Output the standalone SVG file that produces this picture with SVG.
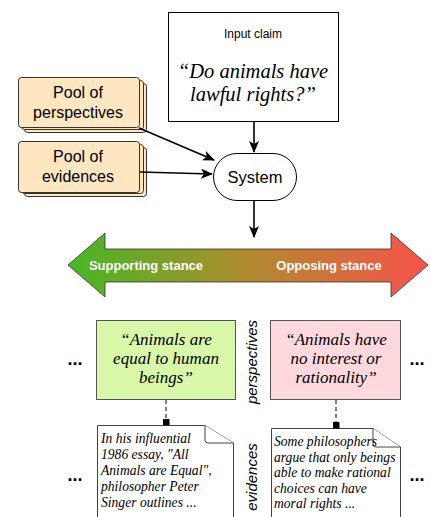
<svg xmlns="http://www.w3.org/2000/svg" width="430" height="517" viewBox="0 0 430 517">
<defs>
<marker id="ah" viewBox="0 0 12 10" refX="11" refY="5" markerWidth="12" markerHeight="10" markerUnits="userSpaceOnUse" orient="auto">
<path d="M0,0 L12,5 L0,10 L3,5 Z" fill="#000"/>
</marker>
<marker id="sq" viewBox="0 0 8 8" refX="4" refY="4" markerWidth="7" markerHeight="7" markerUnits="userSpaceOnUse" orient="auto">
<rect x="0" y="0" width="8" height="8" fill="#000"/>
</marker>
<linearGradient id="stance" x1="68" y1="0" x2="428" y2="0" gradientUnits="userSpaceOnUse">
<stop offset="0" stop-color="#45b824"/>
<stop offset="0.5" stop-color="#b08a2e"/>
<stop offset="1" stop-color="#f8534b"/>
</linearGradient>
</defs>
<style>
.sans{font-family:"Liberation Sans",Arial,sans-serif}
.serif{font-family:"Liberation Serif","Times New Roman",serif;font-style:italic}
.pool{fill:#fde6c0;stroke:#333;stroke-width:1}
.conn{stroke:#000;stroke-width:1.6;fill:none}
.dash{stroke:#000;stroke-width:1;stroke-dasharray:4 3;fill:none}
.doc{fill:#fff;stroke:#444;stroke-width:1}
.dots{font-family:"Liberation Sans",Arial,sans-serif;font-weight:bold;font-size:18px;fill:#000}
</style>
<rect width="430" height="517" fill="#fff"/>

<g id="input-claim">
<rect x="168.5" y="12.5" width="170" height="109" fill="#fff" stroke="#000" stroke-width="1"/>
<text x="253" y="38" class="sans" font-size="12" text-anchor="middle">Input claim</text>
<text x="253" y="78" class="serif" font-size="20.5" text-anchor="middle">“Do animals have</text>
<text x="253" y="101" class="serif" font-size="20.5" text-anchor="middle">lawful rights?”</text>
</g>

<g id="pool-perspectives">
<rect x="24.5" y="83.5" width="122" height="49" rx="3" class="pool"/>
<rect x="21.5" y="80.5" width="122" height="49" rx="3" class="pool"/>
<rect x="18.5" y="77.5" width="121" height="50" rx="3" class="pool"/>
<text x="78" y="98" class="sans" font-size="16" text-anchor="middle">Pool of</text>
<text x="78" y="118" class="sans" font-size="16" text-anchor="middle">perspectives</text>
</g>

<g id="pool-evidences">
<rect x="24.5" y="147.5" width="122" height="49" rx="3" class="pool"/>
<rect x="21.5" y="144.5" width="122" height="49" rx="3" class="pool"/>
<rect x="18.5" y="141.5" width="121" height="51" rx="3" class="pool"/>
<text x="78" y="162" class="sans" font-size="16" text-anchor="middle">Pool of</text>
<text x="78" y="182" class="sans" font-size="16" text-anchor="middle">evidences</text>
</g>

<g id="system">
<rect x="213.5" y="153.5" width="83" height="47" rx="23.5" fill="#fff" stroke="#000" stroke-width="1"/>
<text x="255" y="183" class="sans" font-size="16.5" text-anchor="middle">System</text>
</g>

<g id="stance">
<path d="M68,265 L105,233 L105,249 L391,249 L391,233 L428,265 L391,297 L391,282 L105,282 L105,297 Z" fill="url(#stance)" stroke="#333" stroke-width="0.8"/>
<text x="146" y="270" class="sans" font-size="13" font-weight="bold" fill="#fff" text-anchor="middle">Supporting stance</text>
<text x="329" y="270" class="sans" font-size="13" font-weight="bold" fill="#fff" text-anchor="middle">Opposing stance</text>
</g>

<g id="perspective-support">
<rect x="96.5" y="320.5" width="139" height="79" fill="#d8f7a8" stroke="#555" stroke-width="1"/>
<text x="166" y="345" class="serif" font-size="17" text-anchor="middle">“Animals are</text>
<text x="166" y="364" class="serif" font-size="17" text-anchor="middle">equal to human</text>
<text x="166" y="383" class="serif" font-size="17" text-anchor="middle">beings”</text>
</g>

<g id="perspective-oppose">
<rect x="270.5" y="320.5" width="130" height="79" fill="#fdd9dd" stroke="#555" stroke-width="1"/>
<text x="336" y="345" class="serif" font-size="17" text-anchor="middle">“Animals have</text>
<text x="336" y="364" class="serif" font-size="17" text-anchor="middle">no interest or</text>
<text x="336" y="383" class="serif" font-size="17" text-anchor="middle">rationality”</text>
</g>

<g id="label-perspectives">
<text transform="translate(257,362) rotate(-90)" class="sans" font-size="15" font-style="italic" text-anchor="middle">perspectives</text>
</g>
<g id="label-evidences">
<text transform="translate(257,477) rotate(-90)" class="sans" font-size="15" font-style="italic" text-anchor="middle">evidences</text>
</g>

<g id="evidence-support">
<path d="M97.5,530 L97.5,425.5 L205,425.5 L233.5,443 L233.5,530" class="doc"/>
<path d="M205,425.5 L205,440 Q205,443 208,443 L233.5,443" class="doc" fill="none"/>
<text class="serif" font-size="13.6" x="101">
<tspan x="101" y="443">In his influential</tspan>
<tspan x="101" y="459">1986 essay, "All</tspan>
<tspan x="101" y="475">Animals are Equal",</tspan>
<tspan x="101" y="491">philosopher Peter</tspan>
<tspan x="101" y="507">Singer outlines ...</tspan>
</text>
</g>

<g id="evidence-oppose">
<path d="M271.5,530 L271.5,428.5 L373,428.5 L400.5,447 L400.5,530" class="doc"/>
<path d="M373,428.5 L373,444 Q373,447 376,447 L400.5,447" class="doc" fill="none"/>
<text class="serif" font-size="13.6" x="274">
<tspan x="274" y="446">Some philosophers</tspan>
<tspan x="274" y="462">argue that only beings</tspan>
<tspan x="274" y="477">able to make rational</tspan>
<tspan x="274" y="493">choices can have</tspan>
<tspan x="274" y="508">moral rights ...</tspan>
</text>
</g>

<g id="ellipses">
<text x="75" y="365" class="dots" text-anchor="middle">...</text>
<text x="417" y="365" class="dots" text-anchor="middle">...</text>
<text x="75" y="481" class="dots" text-anchor="middle">...</text>
<text x="417" y="481" class="dots" text-anchor="middle">...</text>
</g>

<g id="connectors">
<line x1="254" y1="122" x2="254" y2="152" class="conn" marker-end="url(#ah)"/>
<line x1="139" y1="128" x2="214" y2="160" class="conn" marker-end="url(#ah)"/>
<line x1="140" y1="172" x2="212" y2="174" class="conn" marker-end="url(#ah)"/>
<line x1="254" y1="201" x2="254" y2="237" class="conn" marker-end="url(#ah)"/>
<line x1="166" y1="400" x2="166" y2="422" class="dash" marker-end="url(#sq)"/>
<line x1="336" y1="400" x2="336" y2="425" class="dash" marker-end="url(#sq)"/>
</g>
</svg>
